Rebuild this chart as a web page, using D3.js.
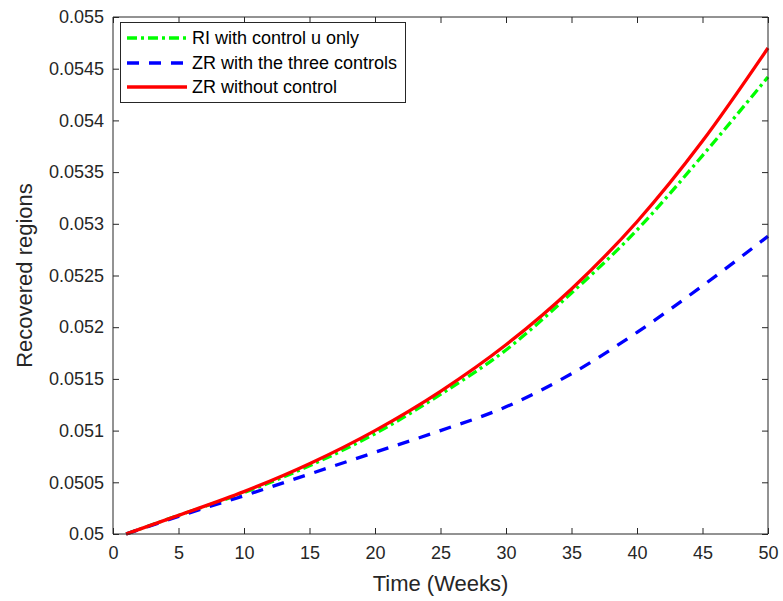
<!DOCTYPE html>
<html>
<head>
<meta charset="utf-8">
<script src="https://cdn.jsdelivr.net/npm/d3@7"></script>
<style>
  html, body { margin: 0; padding: 0; background: #fff; }
  svg { display: block; font-family: "Liberation Sans", Arial, Helvetica, sans-serif; }
</style>
</head>
<body>
<svg id="chart" width="783" height="601"></svg>
<script>
// Time in weeks and recovered-region fractions for each scenario
const weeks = [1, 5, 10, 15, 20, 25, 30, 35, 40, 45, 50];
const riControlU = [0.05, 0.05018, 0.05040, 0.05066, 0.05097, 0.05135, 0.05178, 0.05233, 0.05294, 0.05366, 0.05442];
const zrThreeControls = [0.05, 0.05017, 0.05037, 0.05058, 0.05079, 0.05100, 0.05123, 0.05155, 0.05195, 0.05240, 0.05288];
const zrNoControl = [0.05, 0.05018, 0.05041, 0.05068, 0.05100, 0.05138, 0.05183, 0.05237, 0.05302, 0.05380, 0.05470];

const xTicks = [0, 5, 10, 15, 20, 25, 30, 35, 40, 45, 50];
const yTicks = [0.05, 0.0505, 0.051, 0.0515, 0.052, 0.0525, 0.053, 0.0535, 0.054, 0.0545, 0.055];
const yTickLabels = ["0.05", "0.0505", "0.051", "0.0515", "0.052", "0.0525", "0.053", "0.0535", "0.054", "0.0545", "0.055"];

const series = [
  { name: "RI with control u only", values: riControlU, color: "#00ff00", dash: "10,4,3,4" },
  { name: "ZR with the three controls", values: zrThreeControls, color: "#0000ff", dash: "12,10" },
  { name: "ZR without control", values: zrNoControl, color: "#ff0000", dash: null }
];

const svg = d3.select("#chart");
const margin = { left: 113, right: 15, top: 17, bottom: 67 };
const W = 783, H = 601;
const x = d3.scaleLinear().domain([0, 50]).range([margin.left, W - margin.right]);
const y = d3.scaleLinear().domain([0.05, 0.055]).range([H - margin.bottom, margin.top]);

const axisColor = "#262626";
const tickLen = 6;

// Data lines
const line = d3.line()
  .x((d, i) => x(weeks[i]))
  .y(d => y(d))
  .curve(d3.curveMonotoneX);

svg.append("clipPath").attr("id", "plotclip")
  .append("rect")
  .attr("x", x(0)).attr("y", y(0.055) - 2)
  .attr("width", x(50) - x(0) + 2).attr("height", y(0.05) - y(0.055) + 4);

const lines = svg.append("g").attr("clip-path", "url(#plotclip)");
series.forEach(s => {
  lines.append("path")
    .datum(s.values)
    .attr("d", line)
    .attr("fill", "none")
    .attr("stroke", s.color)
    .attr("stroke-width", 3.3)
    .attr("stroke-dasharray", s.dash);
});

// Axes with inward ticks on all four sides
const bottomAxis = d3.axisBottom(x).tickValues(xTicks).tickSize(-tickLen).tickPadding(12).tickFormat(d3.format("d"));
const topAxis = d3.axisTop(x).tickValues(xTicks).tickSize(-tickLen).tickFormat("");
const leftAxis = d3.axisLeft(y).tickValues(yTicks).tickSize(-tickLen).tickPadding(9)
  .tickFormat((d, i) => yTickLabels[i]);
const rightAxis = d3.axisRight(y).tickValues(yTicks).tickSize(-tickLen).tickFormat("");

function styleAxis(g) {
  g.select(".domain").attr("stroke", axisColor).attr("stroke-width", 1);
  g.selectAll(".tick line").attr("stroke", axisColor).attr("stroke-width", 1);
  g.selectAll(".tick text").attr("fill", axisColor).style("font-size", "18px")
    .style("font-family", "'Liberation Sans', Arial, Helvetica, sans-serif");
}

svg.append("g").attr("transform", `translate(0,${y(0.05)})`).call(bottomAxis).call(styleAxis)
  .call(g => g.select(".domain").attr("d", `M${x(0)},0H${x(50)}`));
svg.append("g").attr("transform", `translate(0,${y(0.055)})`).call(topAxis).call(styleAxis)
  .call(g => g.select(".domain").attr("d", `M${x(0)},0H${x(50)}`));
svg.append("g").attr("transform", `translate(${x(0)},0)`).call(leftAxis).call(styleAxis)
  .call(g => g.select(".domain").attr("d", `M0,${y(0.05)}V${y(0.055)}`));
svg.append("g").attr("transform", `translate(${x(50)},0)`).call(rightAxis).call(styleAxis)
  .call(g => g.select(".domain").attr("d", `M0,${y(0.05)}V${y(0.055)}`));

// Axis titles
svg.append("text")
  .attr("x", (x(0) + x(50)) / 2)
  .attr("y", 591)
  .attr("text-anchor", "middle")
  .attr("fill", axisColor)
  .style("font-size", "22px")
  .text("Time (Weeks)");

svg.append("text")
  .attr("transform", `translate(32,${(y(0.05) + y(0.055)) / 2}) rotate(-90)`)
  .attr("text-anchor", "middle")
  .attr("fill", axisColor)
  .style("font-size", "22px")
  .text("Recovered regions");

// Legend
const legend = svg.append("g");
legend.append("rect")
  .attr("x", 120.5).attr("y", 22.5)
  .attr("width", 285).attr("height", 80)
  .attr("fill", "#fff")
  .attr("stroke", axisColor)
  .attr("stroke-width", 1);

const rowY = [38, 63, 87];
series.forEach((s, i) => {
  legend.append("line")
    .attr("x1", 127).attr("x2", 187)
    .attr("y1", rowY[i]).attr("y2", rowY[i])
    .attr("stroke", s.color)
    .attr("stroke-width", 3.3)
    .attr("stroke-dasharray", s.dash);
  legend.append("text")
    .attr("x", 192)
    .attr("y", rowY[i])
    .attr("dy", "0.35em")
    .attr("fill", "#000")
    .style("font-size", "18px")
    .text(s.name);
});
</script>
</body>
</html>
